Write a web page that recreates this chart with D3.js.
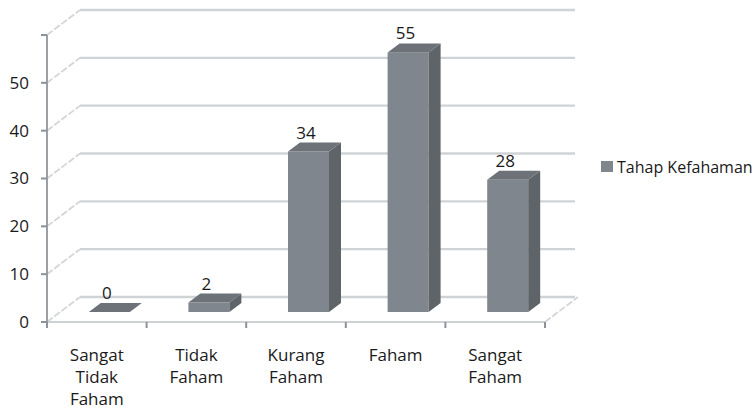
<!DOCTYPE html>
<html>
<head>
<meta charset="utf-8">
<script src="https://cdn.jsdelivr.net/npm/d3@7/dist/d3.min.js"></script>
<style>
  body { margin: 0; background: #fff; }
  svg { display: block; font-family: "Open Sans", "Noto Sans", sans-serif; }
</style>
</head>
<body>
<svg id="chart" width="756" height="409"></svg>
<script>
const categories = [["Sangat", "Tidak", "Faham"], ["Tidak", "Faham"], ["Kurang", "Faham"], ["Faham"], ["Sangat", "Faham"]];
const values = [0, 2, 34, 55, 28];
const yTicks = [0, 10, 20, 30, 40, 50, 60];
const yTickLabels = ["0", "10", "20", "30", "40", "50", ""];
const seriesName = "Tahap Kefahaman";

const svg = d3.select("#chart");

// front plane geometry
const x = d3.scaleBand().domain(d3.range(categories.length)).range([47, 545]).paddingInner(0).paddingOuter(0);
const y = d3.scaleLinear().domain([0, 60]).range([322, 35]);
// bar plane (mid-depth)
const yBar = d3.scaleLinear().domain([0, 60]).range([312, 28.8]);
const depthX = 33, depthY = -25;
const barOffX = -8, barW = 41, sideX = 12, sideY = -9;

const gridColor = "#d0d3d6";
const g = svg.append("g");

// back wall gridlines
g.selectAll(".grid").data(yTicks).enter().append("line")
  .attr("x1", 47 + depthX).attr("x2", 575)
  .attr("y1", d => y(d) + depthY).attr("y2", d => y(d) + depthY)
  .attr("stroke", gridColor).attr("stroke-width", 2.4);
// side wall diagonals
g.selectAll(".diag").data(yTicks).enter().append("line")
  .attr("x1", 47).attr("x2", 47 + depthX)
  .attr("y1", d => y(d)).attr("y2", d => y(d) + depthY)
  .attr("stroke", "#d3d6d9").attr("stroke-width", 1.8)
  .attr("stroke-dasharray", "7,2");
// floor right edge
g.append("line")
  .attr("x1", 545).attr("y1", y(0)).attr("x2", 545 + depthX).attr("y2", y(0) + depthY)
  .attr("stroke", "#d3d6d9").attr("stroke-width", 1.8).attr("stroke-dasharray", "7,2");

// x axis baseline
g.append("line").attr("x1", 47).attr("x2", 545).attr("y1", y(0)).attr("y2", y(0))
  .attr("stroke", "#cfd2d5").attr("stroke-width", 2);
// x ticks
const xTickPos = d3.range(categories.length + 1).map(i => i < categories.length ? x(i) : x.range()[1]);
g.selectAll(".xt").data(xTickPos).enter().append("line")
  .attr("x1", d => d).attr("x2", d => d).attr("y1", y(0)).attr("y2", y(0) + 6)
  .attr("stroke", "#8c9298").attr("stroke-width", 2);

// y axis line
g.append("line").attr("x1", 47).attr("x2", 47).attr("y1", y(60)).attr("y2", y(0))
  .attr("stroke", "#9aa0a5").attr("stroke-width", 2);
g.selectAll(".yt").data(yTicks).enter().append("line")
  .attr("x1", 41).attr("x2", 47).attr("y1", d => y(d)).attr("y2", d => y(d))
  .attr("stroke", "#8c9298").attr("stroke-width", 2);
g.selectAll(".yl").data(yTicks).enter().append("text")
  .attr("x", 29).attr("y", d => y(d)).attr("dy", "0.35em")
  .attr("text-anchor", "end").attr("font-size", 17).attr("fill", "#1a1a1a")
  .text((d, i) => yTickLabels[i]);

// bars
const bars = g.selectAll(".bar").data(values).enter().append("g");
bars.each(function(v, i) {
  const sel = d3.select(this);
  const L = x(i) + x.bandwidth() / 2 + barOffX;
  const R = L + barW;
  const top = yBar(v), base = yBar(0);
  if (v > 0) {
    sel.append("rect").attr("x", L).attr("y", top).attr("width", barW).attr("height", base - top)
      .attr("fill", "#80868d");
    sel.append("path").attr("d", `M${R},${top} L${R + sideX},${top + sideY} L${R + sideX},${base + sideY} L${R},${base} Z`)
      .attr("fill", "#5e6468");
  }
  sel.append("path").attr("d", `M${L},${top} L${R},${top} L${R + sideX},${top + sideY} L${L + sideX},${top + sideY} Z`)
    .attr("fill", "#6c7277");
  sel.append("text")
    .attr("x", L + 18).attr("y", top + sideY - 4)
    .attr("text-anchor", "middle").attr("font-size", 17).attr("fill", "#1a1a1a")
    .text(v);
});

// category labels
const cl = g.selectAll(".cl").data(categories).enter().append("text")
  .attr("text-anchor", "middle").attr("font-size", 17).attr("fill", "#1a1a1a")
  .attr("transform", (d, i) => `translate(${x(i) + x.bandwidth() / 2},361)`);
cl.selectAll("tspan").data(d => d).enter().append("tspan")
  .attr("x", 0).attr("y", (d, j) => j * 22).text(d => d);

// legend
const lg = svg.append("g").attr("transform", "translate(601,161)");
lg.append("rect").attr("width", 12).attr("height", 11).attr("fill", "#80868d");
lg.append("text").attr("x", 16).attr("y", 12).attr("font-size", 16).attr("fill", "#1a1a1a").text(seriesName);
</script>
</body>
</html>
